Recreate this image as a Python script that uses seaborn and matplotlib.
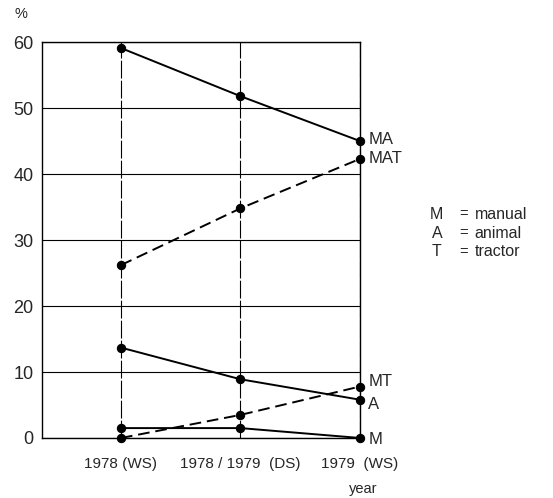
"""Share of farm power source combinations per season (M/A/T)."""

import matplotlib.pyplot as plt
import pandas as pd
import seaborn as sns

seasons = ["1978 (WS)", "1978 / 1979  (DS)", "1979  (WS)"]
ma = [59.1, 51.8, 45.0]
mat = [26.2, 34.8, 42.3]
a = [13.7, 8.9, 5.8]
mt = [0.0, 3.5, 7.8]
m = [1.5, 1.5, 0.0]

series = {"MA": ma, "MAT": mat, "A": a, "MT": mt, "M": m}
dashed = {"MAT", "MT"}
end_labels = {"MA": 45.3, "MAT": 42.3, "MT": 8.5, "A": 5.0, "M": -0.3}

legend_keys = ["M", "A", "T"]
legend_vals = ["manual", "animal", "tractor"]

sns.set_style("white")
plt.rcParams["font.family"] = ["Liberation Sans", "DejaVu Sans"]

df = pd.concat(
    [pd.DataFrame({"season": seasons, "pct": v, "group": k}) for k, v in series.items()],
    ignore_index=True,
)

fig = plt.figure(figsize=(5.53, 4.98), dpi=100)
ax = fig.add_axes([0.076, 0.1205, 0.575, 0.795])

for k in series:
    sub = df[df["group"] == k]
    sns.lineplot(
        data=sub, x="season", y="pct", color="black", linewidth=1.4,
        linestyle=(0, (6, 3)) if k in dashed else "-",
        marker="o", markersize=6, markeredgecolor="black",
        ax=ax, clip_on=False, zorder=3,
    )

ax.set_xlim(-0.66, 2.0)
ax.set_ylim(0, 60)
ax.set_yticks(range(0, 61, 10))
ax.yaxis.grid(True, color="black", linewidth=0.8)
for i in range(3):
    ax.axvline(i, color="black", linewidth=0.8, linestyle=(0, (16, 2)), zorder=1)
for s in ax.spines.values():
    s.set_color("black")
    s.set_linewidth(1.0)
ax.tick_params(axis="both", length=0, pad=6)
ax.tick_params(axis="y", labelsize=13)
ax.tick_params(axis="x", labelsize=11, pad=14)
ax.set_xlabel("")
ax.set_ylabel("")

for k, yv in end_labels.items():
    ax.text(2.07, yv, k, fontsize=12, va="center", ha="left", clip_on=False)

fig.text(0.027, 0.985, "%", fontsize=10.5, va="top")
fig.text(0.656, 0.005, "year", fontsize=10.5, ha="center", va="bottom")

for i, (k, v) in enumerate(zip(legend_keys, legend_vals)):
    y = 0.57 - i * 0.038
    fig.text(0.790, y, k, fontsize=11.5, ha="center", va="center")
    fig.text(0.838, y, "=", fontsize=10.5, ha="center", va="center")
    fig.text(0.858, y, v, fontsize=11.5, ha="left", va="center")

fig.savefig("out.png", dpi=100)
